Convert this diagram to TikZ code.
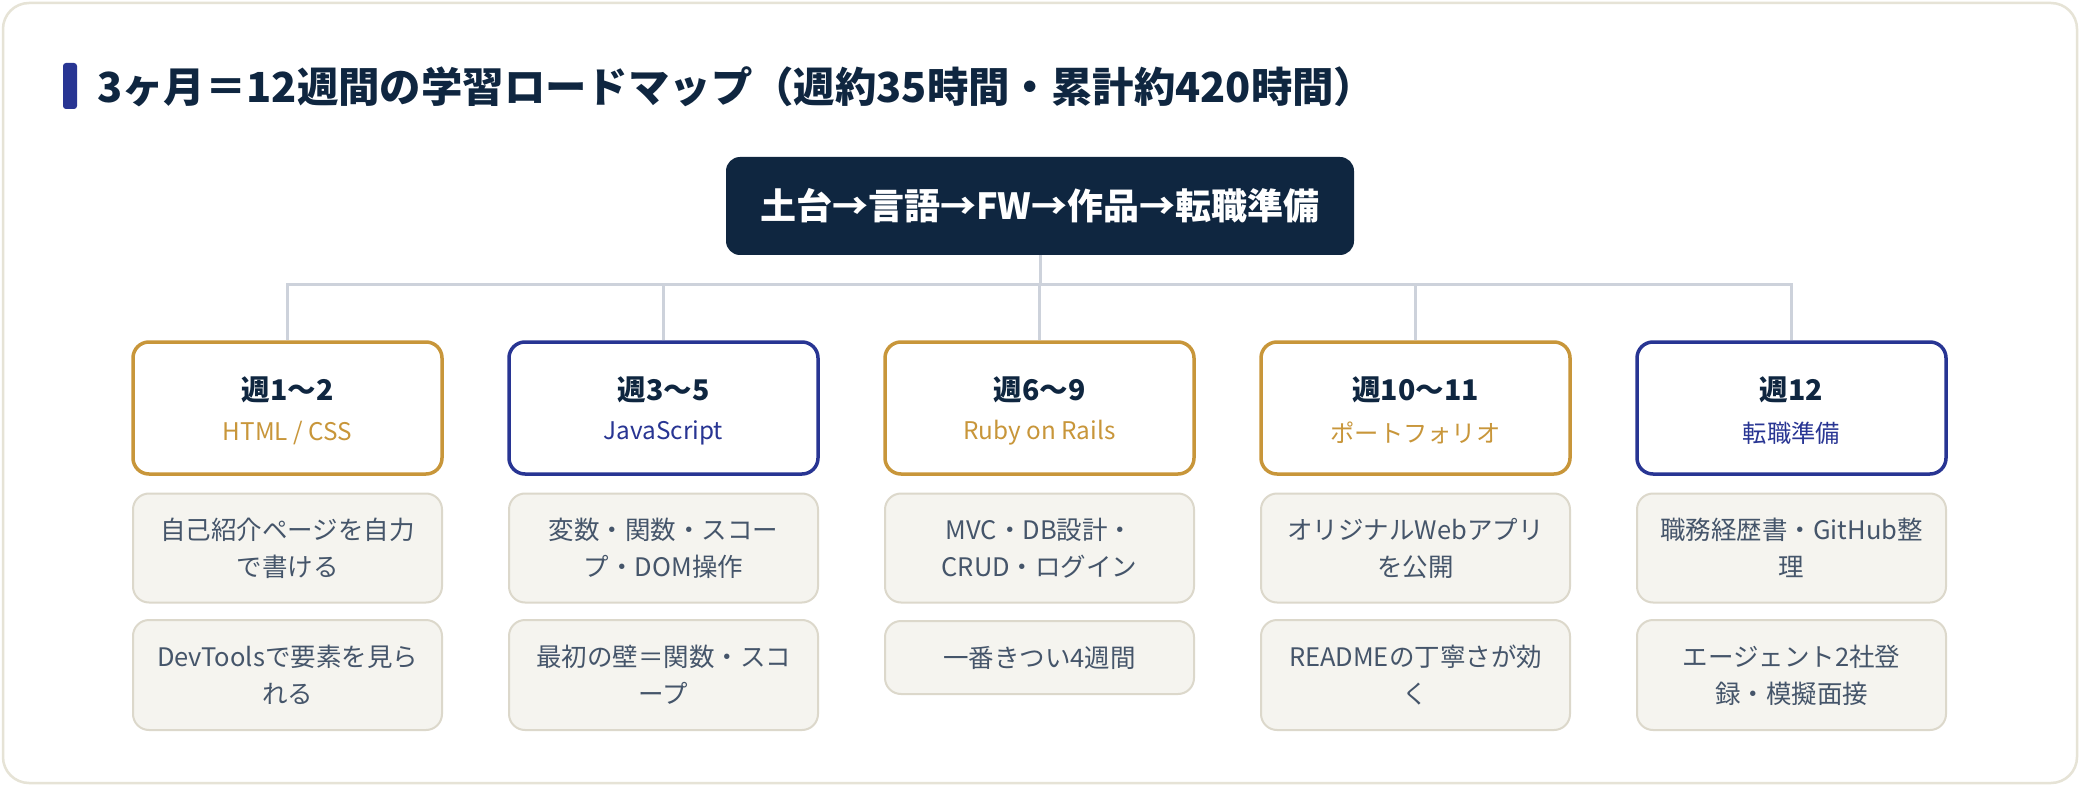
\documentclass[tikz,border=0pt]{standalone}
\usepackage{fontspec}
\setmainfont{Noto Sans CJK JP}
\definecolor{ink}{HTML}{0F2640}
\definecolor{navy}{HTML}{283593}
\definecolor{gold}{HTML}{C8963A}
\definecolor{wire}{HTML}{CDD2DB}
\definecolor{cardfill}{HTML}{F5F4EF}
\definecolor{cardline}{HTML}{DCD8CB}
\definecolor{cardtext}{HTML}{45556A}
\definecolor{frameline}{HTML}{E6E3D6}
\tikzset{
  phase/.style={draw=#1, line width=3.5pt, fill=white, rounded corners=16pt, minimum width=309pt, minimum height=132pt, inner sep=0pt},
  phasetitle/.style={text=ink, font=\bfseries\fontsize{28.5}{34}\selectfont, inner sep=0pt},
  phasesub/.style={text=#1, font=\fontsize{24.3}{28}\selectfont, inner sep=0pt},
  card/.style={draw=cardline, line width=2pt, fill=cardfill, rounded corners=16pt, minimum width=309pt, minimum height=#1, inner sep=0pt, align=center, text=cardtext, font=\fontsize{25.5}{37}\selectfont},
  wireline/.style={draw=wire, line width=3pt},
}
\begin{document}
\begin{tikzpicture}[x=1pt,y=-1pt]
\useasboundingbox (0,0) rectangle (2080,786);
\fill[white] (0,0) rectangle (2080,786);
\draw[frameline, line width=2.5pt, fill=white, rounded corners=26pt] (3,3) rectangle (2077,783);
% title
\fill[navy, rounded corners=3pt] (63,63) rectangle (77,109);
\node[anchor=west, text=ink, font=\bfseries\fontsize{41.4}{48}\selectfont, inner sep=0pt] (title) at (97,87) {3ヶ月＝12週間の学習ロードマップ（週約35時間・累計約420時間）};
% root
\node[fill=ink, rounded corners=14pt, minimum width=628pt, minimum height=98pt, text=white, font=\bfseries\fontsize{36}{42}\selectfont, inner sep=0pt] (root) at (1040,206) {土台→言語→FW→作品→転職準備};
\coordinate (bus) at (1040,285);
% phases
\node[phase=gold] (p1) at (287.5,408) {};
\node[phase=navy] (p2) at (663.5,408) {};
\node[phase=gold] (p3) at (1039.5,408) {};
\node[phase=gold] (p4) at (1415.5,408) {};
\node[phase=navy] (p5) at (1791.5,408) {};
\draw[wireline] (root.south) -- (bus);
\foreach \p in {p1,p2,p3,p4,p5} \draw[wireline] (\p.north) |- (bus);
\node[phasetitle] (t1) at (287.5,390) {週1〜2};
\node[phasetitle] (t2) at (663.5,390) {週3〜5};
\node[phasetitle] (t3) at (1039.5,390) {週6〜9};
\node[phasetitle] (t4) at (1415.5,390) {週10〜11};
\node[phasetitle] (t5) at (1791.5,390) {週12};
\node[phasesub=gold] (s1) at (287.5,433) {HTML / CSS};
\node[phasesub=navy] (s2) at (663.5,433) {JavaScript};
\node[phasesub=gold] (s3) at (1039.5,433) {Ruby on Rails};
\node[phasesub=gold] (s4) at (1415.5,433) {ポートフォリオ};
\node[phasesub=navy] (s5) at (1791.5,433) {転職準備};
% cards row 1
\node[card=109pt] (a1) at (287.5,548) {自己紹介ページを自力\\で書ける};
\node[card=109pt] (a2) at (663.5,548) {変数・関数・スコー\\プ・DOM操作};
\node[card=109pt] (a3) at (1039.5,548) {MVC・DB設計・\\CRUD・ログイン};
\node[card=109pt] (a4) at (1415.5,548) {オリジナルWebアプリ\\を公開};
\node[card=109pt] (a5) at (1791.5,548) {職務経歴書・GitHub整\\理};
% cards row 2
\node[card=110pt] (b1) at (287.5,675) {DevToolsで要素を見ら\\れる};
\node[card=110pt] (b2) at (663.5,675) {最初の壁＝関数・スコ\\ープ};
\node[card=73pt] (b3) at (1039.5,657.5) {一番きつい4週間};
\node[card=110pt] (b4) at (1415.5,675) {READMEの丁寧さが効\\く};
\node[card=110pt] (b5) at (1791.5,675) {エージェント2社登\\録・模擬面接};
\end{tikzpicture}
\end{document}
